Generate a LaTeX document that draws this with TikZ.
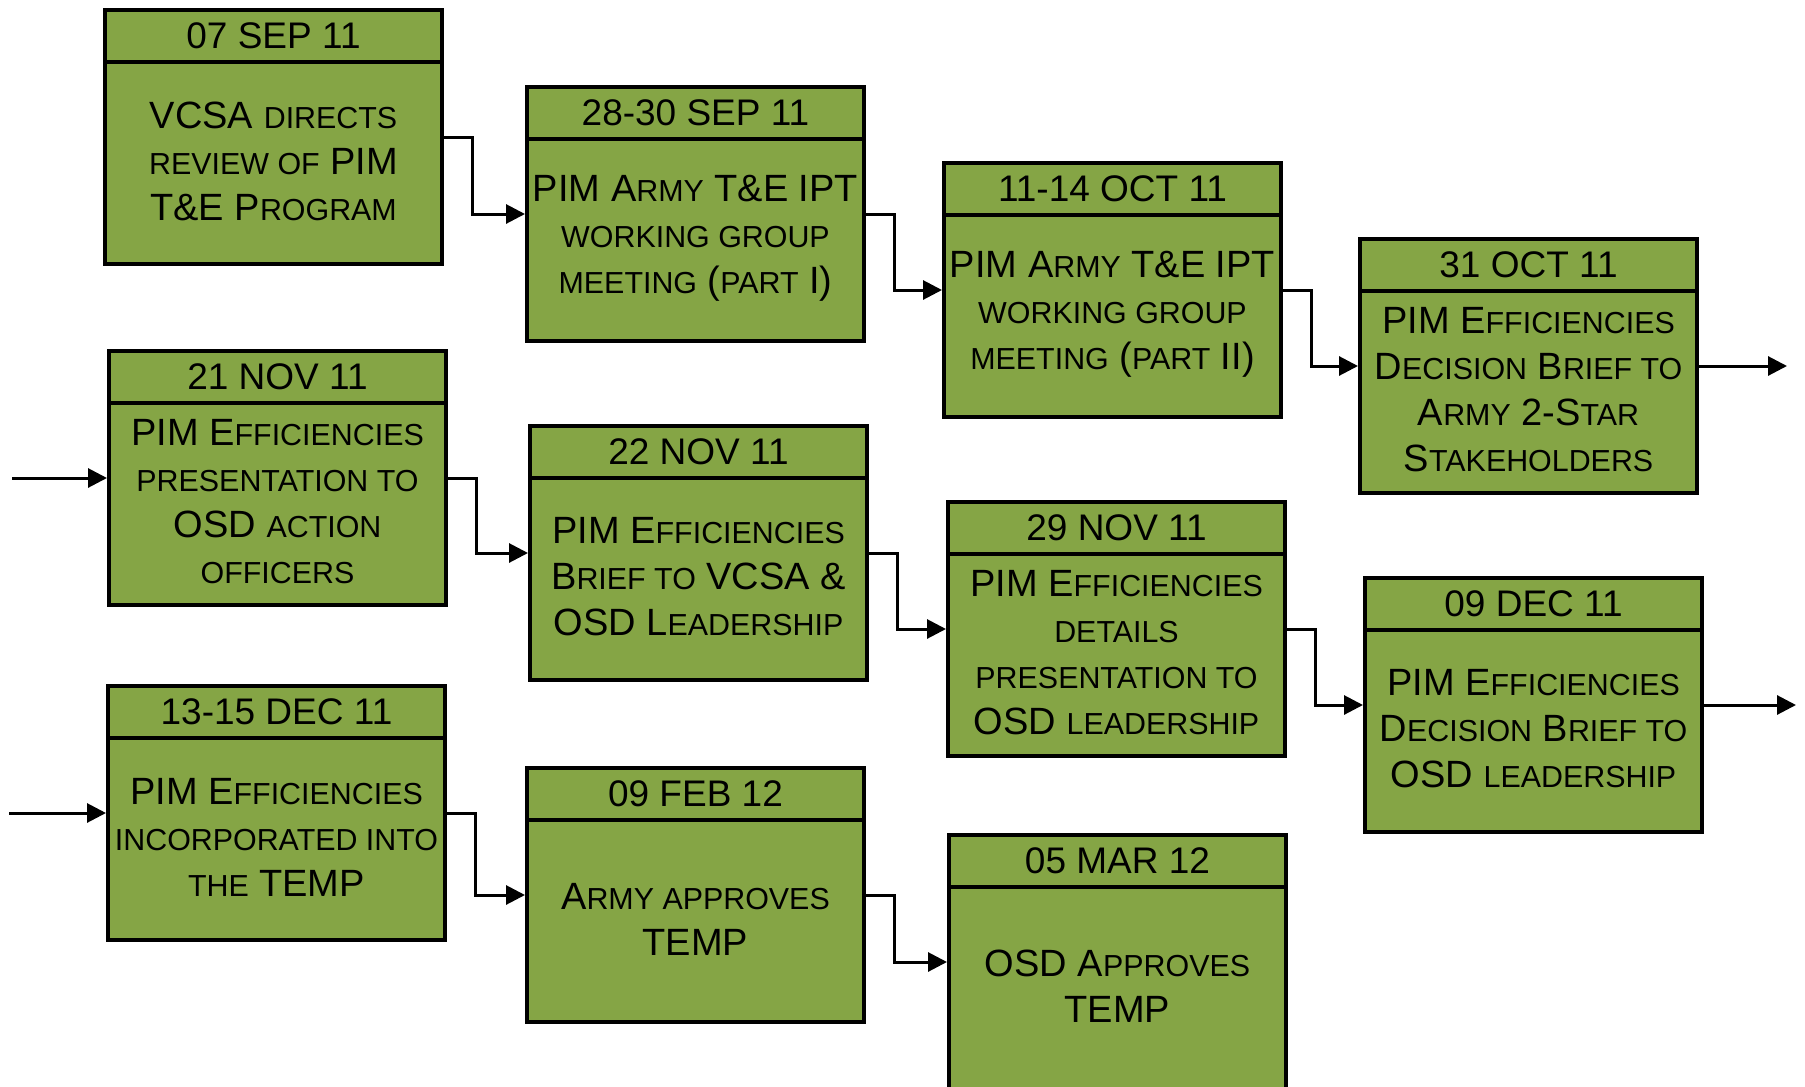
\documentclass[tikz,border=0pt]{standalone}
\usepackage{fontspec}
\setmainfont{Liberation Sans}
\usetikzlibrary{arrows.meta,calc}
\definecolor{boxgreen}{RGB}{133,165,69}
\newcommand\smc[1]{{\fontsize{30.4}{46}\selectfont #1}}
\tikzset{
  tbox/.style={draw=black, line width=4pt, fill=boxgreen, minimum width=337pt, minimum height=254pt, inner sep=0pt},
  divider/.style={line width=4pt},
  hdr/.style={font=\fontsize{37}{44}\selectfont, inner sep=0pt},
  bdy/.style={font=\fontsize{38}{46}\selectfont, align=center, inner sep=0pt},
  conn/.style={line width=3pt, -{Triangle[length=19pt,width=19pt]}},
}
\newcommand\tlbox[5]{%
  \node[tbox, anchor=north west] (#1) at (#2,#3) {};
  \draw[divider] ([yshift=-54pt]#1.north west) -- ([yshift=-54pt]#1.north east);
  \node[hdr] (#1h) at ([yshift=-28pt]#1.north) {#4};
  \node[bdy] (#1b) at ([yshift=105pt]#1.south) {#5};
}
\begin{document}
\begin{tikzpicture}[x=1pt,y=-1pt]
\useasboundingbox (0,0) rectangle (1805,1087);
\tlbox{b1}{103}{8}{07 SEP 11}{VCSA \smc{DIRECTS}\\ \smc{REVIEW OF} PIM\\ T\&E P\smc{ROGRAM}}
\tlbox{b2}{525}{85}{28-30 SEP 11}{PIM A\smc{RMY} T\&E IPT\\ \smc{WORKING GROUP}\\ \smc{MEETING} (\smc{PART} I)}
\tlbox{b3}{942}{161}{11-14 OCT 11}{PIM A\smc{RMY} T\&E IPT\\ \smc{WORKING GROUP}\\ \smc{MEETING} (\smc{PART} II)}
\tlbox{b4}{1358}{237}{31 OCT 11}{PIM E\smc{FFICIENCIES}\\ D\smc{ECISION} B\smc{RIEF TO}\\ A\smc{RMY} 2-S\smc{TAR}\\ S\smc{TAKEHOLDERS}}
\tlbox{b5}{107}{349}{21 NOV 11}{PIM E\smc{FFICIENCIES}\\ \smc{PRESENTATION TO}\\ OSD \smc{ACTION}\\ \smc{OFFICERS}}
\tlbox{b6}{528}{424}{22 NOV 11}{PIM E\smc{FFICIENCIES}\\ B\smc{RIEF TO} VCSA \&\\ OSD L\smc{EADERSHIP}}
\tlbox{b7}{946}{500}{29 NOV 11}{PIM E\smc{FFICIENCIES}\\ \smc{DETAILS}\\ \smc{PRESENTATION TO}\\ OSD \smc{LEADERSHIP}}
\tlbox{b8}{1363}{576}{09 DEC 11}{PIM E\smc{FFICIENCIES}\\ D\smc{ECISION} B\smc{RIEF TO}\\ OSD \smc{LEADERSHIP}}
\tlbox{b9}{106}{684}{13-15 DEC 11}{PIM E\smc{FFICIENCIES}\\ \smc{INCORPORATED INTO}\\ \smc{THE} TEMP}
\tlbox{b10}{525}{766}{09 FEB 12}{A\smc{RMY APPROVES}\\ TEMP}
\tlbox{b11}{947}{833}{05 MAR 12}{OSD A\smc{PPROVES}\\ TEMP}
% connectors
\draw[conn] (b1.east) -- ++(28,0) |- (b2.west);
\draw[conn] (b2.east) -- ++(28,0) |- (b3.west);
\draw[conn] (b3.east) -- ++(28,0) |- (b4.west);
\draw[conn] (b5.east) -- ++(28,0) |- (b6.west);
\draw[conn] (b6.east) -- ++(28,0) |- (b7.west);
\draw[conn] (b7.east) -- ++(28,0) |- (b8.west);
\draw[conn] (b9.east) -- ++(28,0) |- (b10.west);
\draw[conn] (b10.east) -- ++(28,0) |- (b11.west);
\coordinate (out4) at (1787,0);
\coordinate (out8) at (1796,0);
\coordinate (in5) at (12,0);
\coordinate (in9) at (9,0);
\draw[conn] (b4.east) -- (out4 |- b4.east);
\draw[conn] (b8.east) -- (out8 |- b8.east);
\draw[conn] (in5 |- b5.west) -- (b5.west);
\draw[conn] (in9 |- b9.west) -- (b9.west);
\end{tikzpicture}
\end{document}
